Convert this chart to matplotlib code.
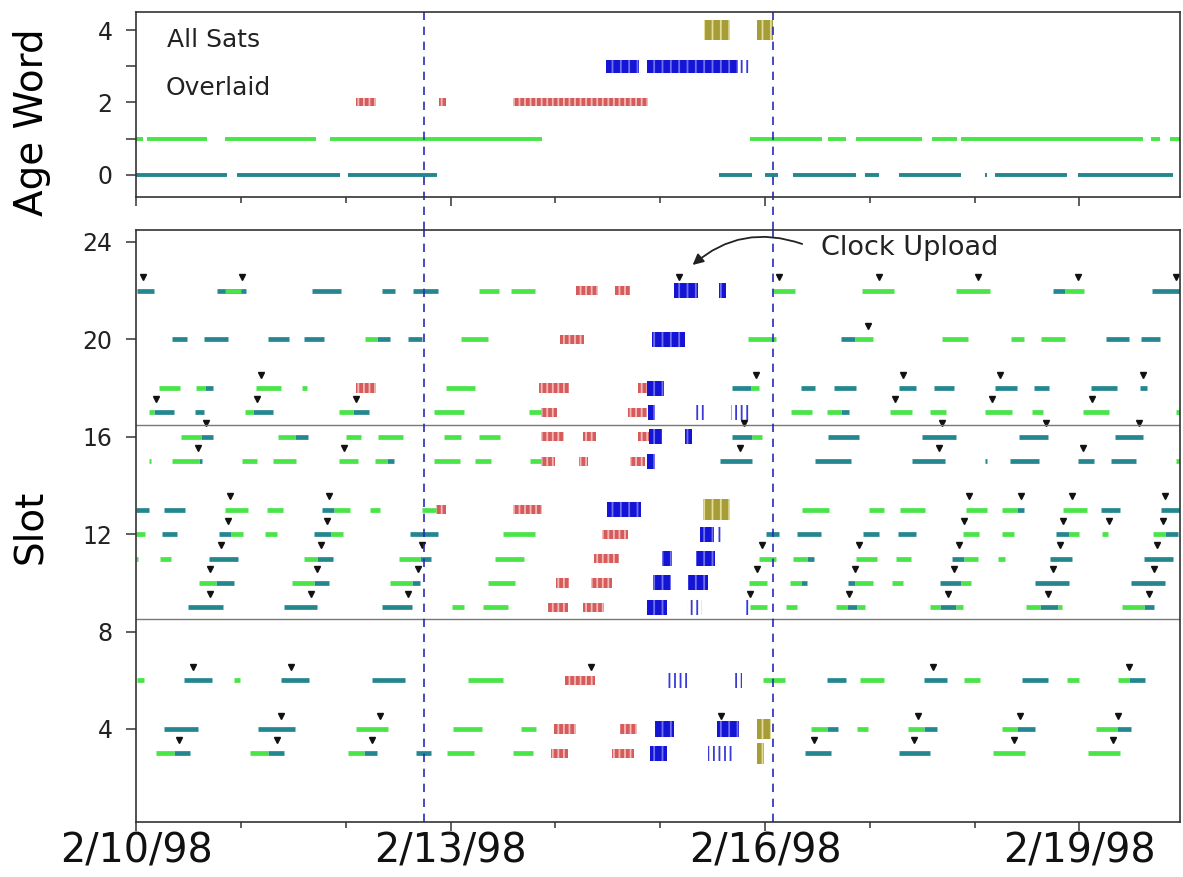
import matplotlib
matplotlib.use('Agg')
import matplotlib.pyplot as plt
import matplotlib.dates as mdates
from matplotlib.ticker import MultipleLocator, FixedLocator, FuncFormatter
from datetime import datetime

plt.rcParams['font.family'] = ['DejaVu Sans']
plt.rcParams['hatch.linewidth'] = 1.3

# times are in days after 2/10/98 00:00
t0 = mdates.date2num(datetime(1998, 2, 10))

# ---- age word, all satellites overlaid: (age, start, end) ----
age_teal = [(0, 0.00, 0.87), (0, 0.96, 1.95), (0, 2.02, 2.87), (0, 5.56, 5.88), (0, 6.00, 6.12),
            (0, 6.27, 6.87), (0, 6.95, 7.09), (0, 7.28, 7.87), (0, 8.10, 8.12), (0, 8.19, 8.88),
            (0, 8.99, 9.89)]
age_green = [(1, 0.00, 0.07), (1, 0.10, 0.68), (1, 0.85, 1.72), (1, 1.85, 3.87), (1, 5.86, 6.54),
             (1, 6.60, 6.77), (1, 6.87, 7.50), (1, 7.59, 7.83), (1, 7.87, 9.61), (1, 9.68, 9.77),
             (1, 9.86, 9.96)]
age_red = [(2, 2.10, 2.29), (2, 2.89, 2.96), (2, 3.60, 4.88)]
age_blue = [(3, 4.48, 4.80), (3, 4.87, 5.74)]
age_blue_thin = [(3, 5.74, 5.86)]
age_olive = [(4, 5.42, 5.67), (4, 5.92, 6.08)]

# ---- per slot: (slot, start, end) ----
slot_teal = [
    (22, 0.01, 0.17), (22, 0.77, 1.05), (22, 1.68, 1.96), (22, 2.35, 2.47), (22, 2.64, 2.88),
    (22, 8.75, 8.86), (22, 9.69, 9.96),
    (20, 0.34, 0.49), (20, 0.65, 0.88), (20, 1.26, 1.46), (20, 1.60, 1.79), (20, 2.30, 2.42),
    (20, 2.59, 2.73), (20, 6.73, 6.86), (20, 9.25, 9.47), (20, 9.59, 9.77),
    (18, 0.66, 0.73), (18, 5.69, 5.87), (18, 6.34, 6.48), (18, 6.66, 6.87), (18, 7.28, 7.44),
    (18, 7.61, 7.80), (18, 8.19, 8.40), (18, 8.57, 8.71), (18, 9.11, 9.36), (18, 9.58, 9.64),
    (17, 0.17, 0.36), (17, 0.56, 0.65), (17, 1.12, 1.31), (17, 2.07, 2.22), (17, 6.73, 6.80),
    (16, 0.62, 0.73), (16, 1.52, 1.64), (16, 5.69, 5.88), (16, 6.60, 6.90), (16, 7.50, 7.82),
    (16, 8.42, 8.70), (16, 9.34, 9.61),
    (15, 0.60, 0.63), (15, 2.39, 2.46), (15, 5.57, 5.88), (15, 6.48, 6.82), (15, 7.40, 7.72),
    (15, 8.10, 8.12), (15, 8.34, 8.61), (15, 8.99, 9.14), (15, 9.30, 9.54),
    (13, 0.00, 0.12), (13, 0.27, 0.47), (13, 1.77, 1.89), (13, 8.40, 8.47), (13, 9.21, 9.39),
    (13, 9.78, 9.96),
    (12, 0.25, 0.39), (12, 0.79, 0.91), (12, 1.70, 1.86), (12, 2.61, 2.88), (12, 6.01, 6.13),
    (12, 6.31, 6.53), (12, 6.94, 7.09), (12, 7.27, 7.44), (12, 8.78, 8.90), (12, 9.82, 9.94),
    (11, 0.70, 0.97), (11, 1.73, 1.88), (11, 2.71, 2.81), (11, 6.40, 6.47), (11, 7.78, 7.90),
    (11, 8.72, 8.93), (11, 9.62, 9.89),
    (10, 0.76, 0.93), (10, 1.70, 1.84), (10, 2.63, 2.71), (10, 6.34, 6.40), (10, 6.79, 6.86),
    (10, 7.67, 7.87), (10, 8.58, 8.90), (10, 9.49, 9.82),
    (9, 0.50, 0.83), (9, 1.41, 1.73), (9, 2.35, 2.63), (9, 6.78, 6.88), (9, 7.67, 7.82),
    (9, 8.62, 8.80), (9, 9.62, 9.71),
    (6, 0.46, 0.72), (6, 1.38, 1.65), (6, 2.25, 2.57), (6, 6.59, 6.77), (6, 7.52, 7.74),
    (6, 8.45, 8.70), (6, 9.47, 9.63),
    (4, 0.27, 0.59), (4, 1.16, 1.52), (4, 6.59, 6.70), (4, 7.52, 7.64), (4, 8.40, 8.58),
    (4, 9.36, 9.49),
    (3, 0.36, 0.51), (3, 1.26, 1.41), (3, 2.17, 2.30), (3, 2.67, 2.81), (3, 6.38, 6.63),
    (3, 7.28, 7.57),
]
slot_green = [
    (22, 0.85, 1.00), (22, 3.27, 3.46), (22, 3.58, 3.81), (22, 6.08, 6.29), (22, 6.93, 7.23),
    (22, 7.82, 8.15), (22, 8.86, 9.04),
    (20, 2.18, 2.30), (20, 3.10, 3.36), (20, 5.84, 6.11), (20, 6.86, 7.03), (20, 7.69, 7.94),
    (20, 8.35, 8.47), (20, 8.63, 8.86),
    (18, 0.22, 0.42), (18, 0.57, 0.66), (18, 1.14, 1.38), (18, 1.58, 1.63), (18, 2.96, 3.23),
    (18, 5.87, 5.94),
    (17, 0.12, 0.17), (17, 1.04, 1.12), (17, 1.94, 2.07), (17, 2.84, 3.13), (17, 3.75, 3.86),
    (17, 6.25, 6.45), (17, 6.59, 6.73), (17, 7.19, 7.40), (17, 7.57, 7.73), (17, 8.10, 8.36),
    (17, 8.55, 8.65), (17, 9.03, 9.28), (17, 9.92, 9.96),
    (16, 0.43, 0.62), (16, 1.35, 1.52), (16, 2.00, 2.15), (16, 2.31, 2.55), (16, 2.94, 3.10),
    (16, 3.27, 3.47), (16, 5.88, 5.97),
    (15, 0.12, 0.14), (15, 0.34, 0.60), (15, 1.01, 1.15), (15, 1.31, 1.53), (15, 1.94, 2.12),
    (15, 2.28, 2.39), (15, 2.84, 3.09), (15, 3.23, 3.39), (15, 3.76, 3.86), (15, 9.92, 9.96),
    (13, 0.85, 1.07), (13, 1.25, 1.40), (13, 1.89, 2.04), (13, 2.23, 2.33), (13, 2.73, 2.86),
    (13, 6.35, 6.61), (13, 6.99, 7.14), (13, 7.29, 7.53), (13, 7.92, 8.12), (13, 8.26, 8.40),
    (13, 8.84, 9.07),
    (12, 0.00, 0.09), (12, 0.91, 1.02), (12, 1.23, 1.34), (12, 1.86, 1.97), (12, 3.50, 3.81),
    (12, 7.89, 8.04), (12, 8.26, 8.38), (12, 8.90, 9.00), (12, 9.22, 9.27), (12, 9.70, 9.82),
    (11, 0.00, 0.02), (11, 0.23, 0.33), (11, 1.60, 1.73), (11, 2.51, 2.71), (11, 3.42, 3.70),
    (11, 5.94, 6.11), (11, 6.27, 6.40), (11, 6.87, 7.07), (11, 7.25, 7.39), (11, 7.90, 8.03),
    (11, 8.22, 8.29),
    (10, 0.60, 0.76), (10, 1.49, 1.70), (10, 2.42, 2.63), (10, 3.36, 3.62), (10, 5.85, 6.02),
    (10, 6.24, 6.34), (10, 6.86, 7.03), (10, 7.21, 7.32), (10, 7.87, 7.97),
    (9, 3.01, 3.13), (9, 3.31, 3.55), (9, 5.86, 6.02), (9, 6.20, 6.31), (9, 6.68, 6.78),
    (9, 6.88, 6.95), (9, 7.57, 7.67), (9, 7.82, 7.89), (9, 8.49, 8.62), (9, 8.80, 8.83),
    (9, 9.41, 9.62),
    (6, 0.01, 0.08), (6, 0.93, 0.99), (6, 3.17, 3.50), (6, 5.98, 6.19), (6, 6.91, 7.14),
    (6, 7.90, 8.05), (6, 8.88, 9.00), (6, 9.37, 9.47),
    (4, 2.10, 2.40), (4, 3.02, 3.30), (4, 3.67, 3.82), (4, 6.44, 6.59), (4, 6.88, 6.98),
    (4, 7.36, 7.52), (4, 8.26, 8.40), (4, 9.16, 9.36),
    (3, 0.19, 0.36), (3, 1.09, 1.26), (3, 2.02, 2.17), (3, 2.97, 3.22), (3, 3.60, 3.79),
    (3, 8.18, 8.48), (3, 9.08, 9.39),
]
slot_red = [
    (22, 4.20, 4.41), (22, 4.57, 4.71), (20, 4.04, 4.27),
    (18, 2.10, 2.29), (18, 3.84, 4.13), (18, 4.79, 4.87),
    (17, 3.86, 4.02), (17, 4.69, 4.87),
    (16, 3.86, 4.08), (16, 4.26, 4.39), (16, 4.79, 4.89),
    (15, 3.86, 4.00), (15, 4.23, 4.31), (15, 4.71, 4.86),
    (13, 2.86, 2.96), (13, 3.60, 3.87), (12, 4.45, 4.69), (11, 4.37, 4.61),
    (10, 4.01, 4.13), (10, 4.34, 4.54), (9, 3.93, 4.12), (9, 4.26, 4.46),
    (6, 4.09, 4.38), (4, 3.99, 4.20), (4, 4.62, 4.78), (3, 3.96, 4.12), (3, 4.54, 4.75),
]
slot_blue = [
    (22, 5.13, 5.36), (22, 5.56, 5.63), (20, 4.92, 5.24), (18, 4.87, 5.04), (17, 4.88, 4.95),
    (16, 4.89, 5.02), (16, 5.24, 5.30), (15, 4.87, 4.95), (13, 4.49, 4.82), (12, 5.38, 5.51),
    (11, 5.02, 5.11), (11, 5.34, 5.52), (10, 4.93, 5.10), (10, 5.27, 5.46), (9, 4.87, 5.07),
    (4, 4.95, 5.13), (4, 5.54, 5.75), (3, 4.90, 5.07),
]
slot_blue_thin = [
    (17, 5.33, 5.43), (17, 5.68, 5.85), (12, 5.52, 5.60), (9, 5.26, 5.40), (9, 5.79, 5.86),
    (6, 5.05, 5.28), (6, 5.71, 5.78), (3, 5.46, 5.70),
]
slot_olive = [(13, 5.41, 5.67), (4, 5.92, 6.06), (3, 5.92, 5.99)]

# upload markers: (slot, time)
marks = [
    (22, 0.07), (22, 1.01), (22, 5.18), (22, 6.13), (22, 7.09), (22, 8.03), (22, 8.99), (22, 9.92),
    (20, 6.98),
    (18, 1.19), (18, 5.91), (18, 7.32), (18, 8.24), (18, 9.61),
    (17, 0.19), (17, 1.15), (17, 2.10), (17, 7.24), (17, 8.17), (17, 9.12),
    (16, 0.67), (16, 5.80), (16, 7.69), (16, 8.68), (16, 9.57),
    (15, 0.59), (15, 1.98), (15, 5.76), (15, 7.66), (15, 9.03),
    (13, 0.90), (13, 1.84), (13, 7.95), (13, 8.44), (13, 8.93), (13, 9.82),
    (12, 0.88), (12, 1.82), (12, 7.90), (12, 8.84), (12, 9.28), (12, 9.80),
    (11, 0.81), (11, 1.76), (11, 2.73), (11, 5.97), (11, 6.90), (11, 7.85), (11, 8.81), (11, 9.74),
    (10, 0.71), (10, 1.73), (10, 2.69), (10, 5.92), (10, 6.86), (10, 7.80), (10, 8.75), (10, 9.71),
    (9, 0.71), (9, 1.67), (9, 2.59), (9, 5.86), (9, 6.80), (9, 7.75), (9, 8.70), (9, 9.66),
    (6, 0.54), (6, 1.48), (6, 4.34), (6, 7.60), (6, 9.47),
    (4, 1.38), (4, 2.33), (4, 5.58), (4, 7.46), (4, 8.43), (4, 9.37),
    (3, 0.41), (3, 1.34), (3, 2.25), (3, 6.47), (3, 7.42), (3, 8.38), (3, 9.32),
]

events = [2.75, 6.08]        # dashed event lines
bounds = [16.5, 8.5]         # plane group dividers
upload_tail = (6.38, 23.88)
upload_head = (5.29, 22.98)
label_days = [0, 3, 6, 9]    # labelled dates: 2/10, 2/13, 2/16, 2/19
tick_days = list(range(10))

TEAL = '#24878f'
GREEN = '#48e448'
RED = '#d65c5c'
BLUE = '#1414d4'
OLIVE = '#a69d3a'


def lines(ax, segs, color, lw):
    lv, s, e = zip(*segs)
    ax.hlines(lv, [t0 + a for a in s], [t0 + b for b in e], colors=color, lw=lw)


def blocks(ax, segs, face, hcol, h, hatch):
    lv, s, e = zip(*segs)
    ax.bar([t0 + a for a in s], h, width=[b - a for a, b in zip(s, e)],
           bottom=[v - h / 2 for v in lv], align='edge', color=face,
           edgecolor=hcol, hatch=hatch, linewidth=0)


def date_fmt(x, pos):
    d = mdates.num2date(x)
    return f"{d.month}/{d.day}/{d:%y}"


fig = plt.figure(figsize=(11.83, 8.77), dpi=100)
ax1 = fig.add_axes([0.115, 0.7754, 0.8825, 0.211])
ax2 = fig.add_axes([0.115, 0.0627, 0.8825, 0.675])

# top panel
lines(ax1, age_teal, TEAL, 2.8)
lines(ax1, age_green, GREEN, 2.8)
blocks(ax1, age_red, RED, '#f3b9b9', 0.22, '|||')
blocks(ax1, age_blue, BLUE, '#7070f0', 0.36, '||')
blocks(ax1, age_blue_thin, 'none', '#3a3ad8', 0.36, '|||')
blocks(ax1, age_olive, OLIVE, '#e2dd95', 0.55, '||')
ax1.text(t0 + 0.30, 3.72, 'All Sats', fontsize=18, va='center', color='#222222')
ax1.text(t0 + 0.28, 2.40, 'Overlaid', fontsize=18, va='center', color='#222222')
ax1.set_ylim(-0.61, 4.5)
ax1.yaxis.set_major_locator(MultipleLocator(2))
ax1.yaxis.set_minor_locator(MultipleLocator(1))

# bottom panel
lines(ax2, slot_teal, TEAL, 3.4)
lines(ax2, slot_green, GREEN, 3.4)
blocks(ax2, slot_red, RED, '#f3b9b9', 0.38, '|||')
blocks(ax2, slot_blue, BLUE, '#7070f0', 0.62, '||')
blocks(ax2, slot_blue_thin, 'none', '#3a3ad8', 0.62, '|||')
blocks(ax2, slot_olive, OLIVE, '#e2dd95', 0.85, '||')
ms, md = zip(*marks)
ax2.plot([t0 + d for d in md], [s + 0.55 for s in ms], 'v', color='#111111', ms=4.2, ls='none')
for b in bounds:
    ax2.axhline(b, color='#777777', lw=1.0)
ax2.set_ylim(0.18, 24.49)
ax2.yaxis.set_major_locator(MultipleLocator(4))

ax2.text(t0 + 6.53, 23.75, 'Clock Upload', fontsize=19.5, va='center', color='#222222')
ax2.annotate('', xy=(t0 + upload_head[0], upload_head[1]),
             xytext=(t0 + upload_tail[0], upload_tail[1]),
             arrowprops=dict(arrowstyle='-|>', color='#222222', lw=1.3,
                             connectionstyle='arc3,rad=0.3', mutation_scale=16))

for x in events:
    ax1.axvline(t0 + x, ymin=-0.18, ymax=1, color='#2a2ab8', lw=1.2,
                ls=(0, (5, 4)), clip_on=False)
    ax2.axvline(t0 + x, color='#2a2ab8', lw=1.2, ls=(0, (5, 4)))

for ax in (ax1, ax2):
    ax.set_xlim(t0, t0 + 9.96)
    ax.xaxis.set_major_locator(FixedLocator([t0 + d for d in label_days]))
    ax.xaxis.set_minor_locator(FixedLocator([t0 + d for d in tick_days]))
    ax.xaxis.set_major_formatter(FuncFormatter(date_fmt))
    for sp in ax.spines.values():
        sp.set_color('#333333')
        sp.set_linewidth(1.2)
    ax.tick_params(axis='y', which='both', direction='out', length=7, width=1.1,
                   labelsize=17, pad=10, colors='#333333', labelcolor='#222222')
    ax.tick_params(axis='x', which='major', direction='out', length=6.5, width=1.1, colors='#333333')
    ax.tick_params(axis='x', which='minor', direction='out', length=4.5, width=1.1, colors='#333333')

ax1.tick_params(axis='x', labelbottom=False)
ax2.tick_params(axis='x', which='major', labelsize=28.5, pad=0.5, labelcolor='#111111')

fig.text(32 / 1183, 1 - 122 / 877, 'Age Word', rotation=90, ha='center', va='center', fontsize=28)
fig.text(30 / 1183, 1 - 527 / 877, 'Slot', rotation=90, ha='center', va='center', fontsize=28)

fig.savefig('out.png', dpi=100)
